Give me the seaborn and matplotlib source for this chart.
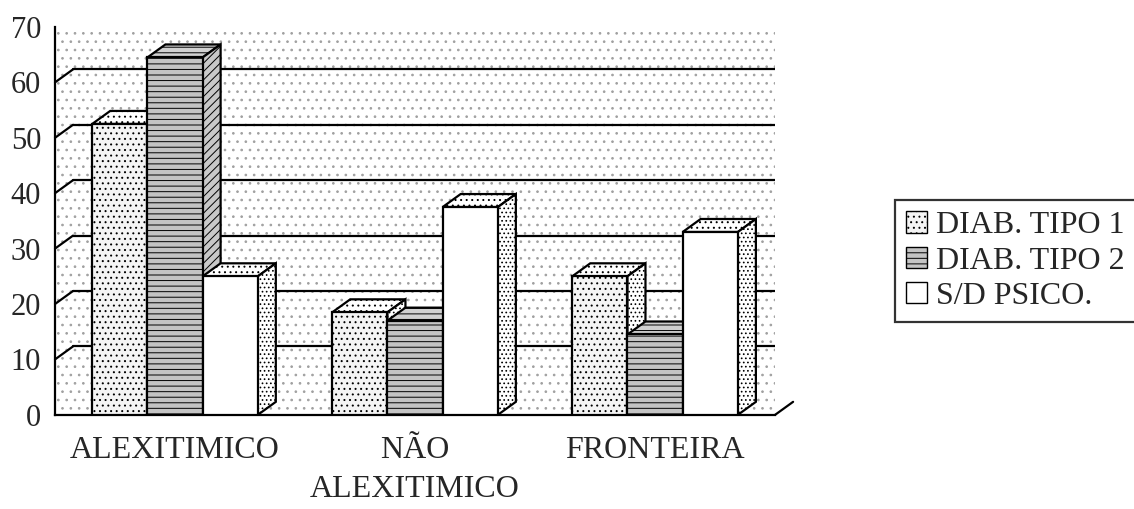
import pandas as pd
import numpy as np
import matplotlib.pyplot as plt
import seaborn as sns
from matplotlib.patches import Polygon, Patch

grupos = ['ALEXITIMICO', 'NÃO\nALEXITIMICO', 'FRONTEIRA']
series = ['DIAB. TIPO 1', 'DIAB. TIPO 2', 'S/D PSICO.']
tipo1 = [52.5, 18.5, 25]
tipo2 = [64.5, 17, 14.5]
sdpsico = [25, 37.5, 33]
yticks = [0, 10, 20, 30, 40, 50, 60, 70]

df = pd.DataFrame({
    'grupo': grupos * 3,
    'tipo': [s for s in series for _ in grupos],
    'valor': tipo1 + tipo2 + sdpsico,
})

sns.set_style('white')
plt.rcParams['font.family'] = ['Liberation Serif', 'DejaVu Serif']
plt.rcParams['hatch.linewidth'] = 0.7

fig = plt.figure(figsize=(11.34, 5.09), dpi=100)
ax = fig.add_axes([0.0485, 0.185, 0.635, 0.762])

cores = ['#f4f4f4', '#c4c4c4', 'white']
hatches = ['...', '---', '']
sns.barplot(data=df, x='grupo', y='valor', hue='tipo', order=grupos, hue_order=series,
            palette=cores, width=0.69, edgecolor='black', linewidth=1.6,
            saturation=1, legend=False, ax=ax)

ax.set_xlim(-0.5, 2.5)
ax.set_ylim(0, 70)

# 3D offset in data units (about 18 px right, 13 px up)
p0 = ax.transData.transform((0, 0))
p1 = ax.transData.transform((1, 10))
dx = 18 / (p1[0] - p0[0])
dy = 13 / ((p1[1] - p0[1]) / 10)

# back wall dotted background
ax.patch.set_facecolor('white')
ax.patch.set_hatch('..')
ax.patch.set_edgecolor('#a0a0a0')
ax.patch.set_linewidth(0)

# gridlines on back wall plus slanted connectors
for v in yticks[1:-1]:
    ax.plot([-0.5 + dx, 2.5 + dx], [v + dy, v + dy], color='black', lw=1.6, zorder=1, clip_on=True)
    ax.plot([-0.5, -0.5 + dx], [v, v + dy], color='black', lw=1.6, zorder=1, clip_on=False)

# collect bars and draw pseudo 3D faces
bars = []
for i, cont in enumerate(ax.containers):
    for b in cont:
        bars.append((b.get_x(), b, i))
bars.sort(key=lambda t: t[0])
for k, (_, b, i) in enumerate(bars):
    x0, w, h = b.get_x(), b.get_width(), b.get_height()
    b.set_hatch(hatches[i])
    b.set_zorder(3 + 2 * k + 1)
    top = Polygon([(x0, h), (x0 + w, h), (x0 + w + dx, h + dy), (x0 + dx, h + dy)],
                  closed=True, facecolor='white' if i != 1 else '#d0d0d0', edgecolor='black', lw=1.6,
                  hatch='...' if i != 1 else '---', zorder=3 + 2 * k)
    side = Polygon([(x0 + w, 0), (x0 + w + dx, dy), (x0 + w + dx, h + dy), (x0 + w, h)],
                   closed=True, facecolor='white' if i != 1 else '#c8c8c8', edgecolor='black', lw=1.6,
                   hatch='....' if i != 1 else '////', zorder=3 + 2 * k)
    ax.add_patch(top)
    ax.add_patch(side)

# floor right edge
ax.plot([2.5, 2.5 + dx], [0, dy], color='black', lw=1.6, clip_on=False)

sns.despine(ax=ax, top=True, right=True)
for s in ['left', 'bottom']:
    ax.spines[s].set_color('black')
    ax.spines[s].set_linewidth(1.6)

ax.set_yticks(yticks)
ax.set_yticklabels([str(v) for v in yticks], fontsize=22)
ax.tick_params(axis='y', direction='out', length=8, width=1.6, color='black', pad=2)
ax.set_xticks([0, 1, 2])
ax.set_xticklabels(grupos, fontsize=23, linespacing=1.45)
ax.set_xticks([-0.5, 0.5, 1.5, 2.5], minor=True)
ax.tick_params(axis='x', which='major', length=0, pad=15)
ax.tick_params(axis='x', which='minor', direction='out', length=10, width=1.6, color='black')
ax.set_xlabel('')
ax.set_ylabel('')

handles = [Patch(facecolor=cores[i], edgecolor='black', hatch=hatches[i], label=series[i])
           for i in range(3)]
leg = fig.legend(handles=handles, loc='upper left', bbox_to_anchor=(0.789, 0.607),
                 fontsize=23, frameon=True, fancybox=False, handlelength=0.65, handleheight=0.65,
                 handletextpad=0.3, labelspacing=0.2, borderpad=0.35, borderaxespad=0)
leg.get_frame().set_edgecolor('black')
leg.get_frame().set_linewidth(1.6)

fig.savefig('out.png', dpi=100)
